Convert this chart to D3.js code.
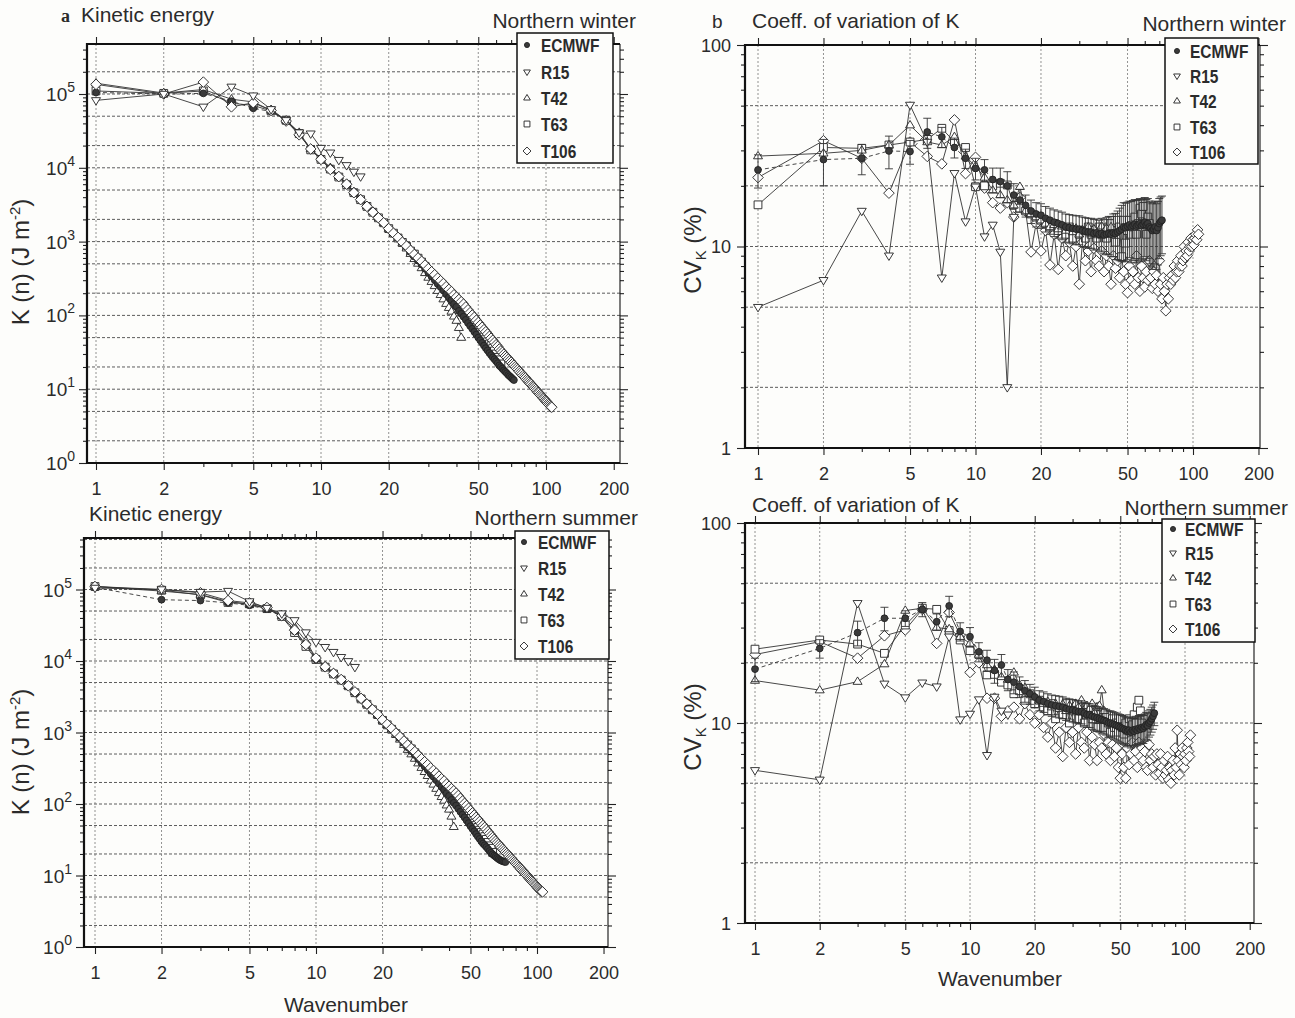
<!DOCTYPE html>
<html><head><meta charset="utf-8">
<script src="https://cdn.jsdelivr.net/npm/d3@7"></script>
<style>
html,body{margin:0;padding:0;background:#fdfdfb;}
svg{display:block;}
text{font-family:"Liberation Sans",Arial,Helvetica,sans-serif;fill:#2b2b2b;}
</style></head><body>
<svg id="chart" width="1295" height="1018"></svg>
<script>
// ---------------- DATA (value at wavenumber n = index + 1) ----------------
const seriesNames = ["ECMWF", "R15", "T42", "T63", "T106"];
const xTickLabels = [1, 2, 5, 10, 20, 50, 100, 200];

// a) Kinetic energy, Northern winter (J m^-2)
const keWinterECMWF = [1.05e5,1.0e5,1.02e5,8.0e4,6.4e4,5.8e4,4.3e4,2.9e4,1.8e4,1.3e4,9.8e3,7.6e3,6.0e3,4.7e3,3.7e3,
  3.0e3,2.5e3,2.1e3,1.8e3,1.5e3,1.3e3,1.12e3,
  965,842,724,627,552,489,428,376,336,301,267,242,217,194,175,161,143,131,
  115,105,96,87,79,72,66,60,55,50,46,42.5,39,36,33.5,31,29,27,25.5,24,22.5,21,20,19,18,17.2,16.4,15.6,15,14.4,13.8,13.3];
const keWinterR15 = [8.2e4,1.0e5,6.7e4,1.25e5,9.5e4,6.2e4,4.4e4,3.0e4,2.9e4,1.85e4,1.6e4,1.27e4,1.08e4,8.8e3,7.6e3];
const keWinterT42 = [1.4e5,1.03e5,1.15e5,8.5e4,7.8e4,6.0e4,4.4e4,3.0e4,1.8e4,1.35e4,1.0e4,7.7e3,6.1e3,4.7e3,3.8e3,
  3.05e3,2.55e3,2.15e3,1.8e3,1.5e3,1.3e3,1.13e3,
  947,812,685,584,505,439,377,326,286,251,216,190,166,144,127,113,97,85,68,50];
const keWinterT63 = [1.1e5,1.02e5,1.1e5,7.5e4,7.0e4,5.9e4,4.4e4,2.9e4,1.75e4,1.3e4,9.6e3,7.5e3,5.9e3,4.6e3,3.7e3,
  3.0e3,2.5e3,2.1e3,1.8e3,1.5e3,1.3e3,1.12e3,975,860,745,
  677,596,528,462,406,363,325,288,261,234,210,189,174,154,141,132,122,113,104,95,87,81,76,69,64,59,55,51,48,44,41,39,36,33,30,27,25,22];
const keWinterT106 = [1.35e5,1.0e5,1.45e5,6.7e4,7.6e4,6.0e4,4.3e4,2.8e4,1.8e4,1.3e4,9.5e3,7.6e3,6.0e3,4.6e3,3.7e3,
  3.0e3,2.5e3,2.1e3,1.8e3,1.5e3,1.3e3,1.14e3,980,870,760,670,600,540,480,430,390,355,320,295,270,245,225,210,190,177,164,153,142,
  130,119,109,101,94,86,80,74,69,64,60,56,52,49,46,43,40,38,35,33,
  31.5,29.8,28.2,26.9,25.5,24.3,23.2,22.1,21.1,20.1,19.2,18.4,17.5,16.8,16.1,15.3,14.7,14.2,13.5,13.0,
  12.5,12.0,11.6,11.0,10.7,10.3,9.9,9.5,9.1,8.9,8.5,8.2,7.9,7.6,7.4,7.1,6.9,6.7,6.4,6.2,6.0,5.8,5.7];

// Kinetic energy, Northern summer (J m^-2)
const keSummerECMWF = [1.07e5,7.2e4,7.0e4,6.5e4,6.0e4,5.3e4,4.2e4,2.6e4,1.7e4,1.05e4,8.2e3,6.6e3,5.4e3,4.4e3,3.6e3,
  2.95e3,2.45e3,2.05e3,1.75e3,1.45e3,1.27e3,1.1e3,
  950,830,715,620,548,485,425,374,334,300,266,240,215,193,174,160,142,130,
  114,104,95,86,78,71,65,59,54,49,45,41.5,38,35,32.5,30,28,26.5,25,23.5,22,20.8,19.8,19,18.3,17.6,17,16.5,16.1,15.8,15.6,15.4];
const keSummerR15 = [1.05e5,1.0e5,9.2e4,9.5e4,6.8e4,5.5e4,4.6e4,3.7e4,2.5e4,1.84e4,1.56e4,1.33e4,1.13e4,9.9e3,8.2e3];
const keSummerT42 = [1.1e5,9.5e4,8.5e4,6.8e4,6.2e4,5.4e4,4.3e4,3.0e4,1.9e4,1.1e4,8.5e3,6.8e3,5.5e3,4.5e3,3.7e3,
  3.0e3,2.5e3,2.1e3,1.78e3,1.48e3,1.28e3,1.11e3,
  935,800,675,575,498,432,372,322,282,248,214,188,164,143,126,112,96,84,67,48];
const keSummerT63 = [1.1e5,9.8e4,8.4e4,6.6e4,6.3e4,5.4e4,4.2e4,2.5e4,1.6e4,1.05e4,8.2e3,6.6e3,5.4e3,4.5e3,3.6e3,
  2.95e3,2.48e3,2.08e3,1.78e3,1.48e3,1.28e3,1.11e3,965,850,738,
  670,590,522,458,402,360,322,286,259,232,208,188,172,153,140,131,121,112,103,94,86,80,75,68,63,58,54,50,47,43,40,38,35,32,29,26,24,21];
const keSummerT106 = [1.1e5,1.0e5,9.0e4,7.0e4,6.5e4,5.6e4,4.3e4,2.7e4,1.7e4,1.1e4,8.3e3,6.7e3,5.5e3,4.5e3,3.7e3,
  3.0e3,2.5e3,2.1e3,1.8e3,1.5e3,1.3e3,1.14e3,980,870,760,670,600,540,480,430,390,355,320,295,270,245,225,210,190,177,164,153,142,
  131,120,110,102,95,87,81,75,70,65,61,57,53,50,47,44,41,38.5,36,34,
  32,30.2,28.6,27.2,25.8,24.6,23.4,22.3,21.3,20.3,19.4,18.5,17.7,17.0,16.2,15.5,14.9,14.3,13.7,13.1,
  12.6,12.1,11.7,11.2,10.8,10.4,10.0,9.6,9.2,8.9,8.6,8.3,8.0,7.7,7.4,7.2,6.9,6.7,6.5,6.3,6.1,6.0,5.9];

// b) Coefficient of variation of K (%), Northern winter
const cvWinterECMWF = [24,27,27.4,29.8,29.6,37,35,31,27.4,24.4, 24,21.5,21,20,18,17,16,15,14.5,14.3,
  13.8,13.5,13.2,13,12.8,12.5,12.4,12.3,12.2,12.2, 12.0,11.9,11.8,11.8,11.6,11.7,11.5,11.6,11.4,11.5,
  11.6,11.5,11.7,11.6,11.8,12.0,12.2,12.5,12.4,12.6, 12.8,12.5,12.7,12.9,12.6,12.8,13.0,12.7,12.9,13.2,
  12.8,13.0,12.5,12.3,12.0,12.2,12.5,12.0,12.4,13.0, 13.3,13.5];
const cvWinterECMWFErr = [4.5,7,4.7,5.5,4,6.3,4,3.5,3,3, 3,3,3.5,3.5,2.5,2.2,2,2,2,2,
  2,2,2,2,2,2,2,2,2,2, 2,2,2,2,2,2,2,2.2,2.2,2.4, 2.5,2.6,2.8,3,3.2,3.5,3.8,4,4,4,
  4,4.2,4.2,4.2,4.3,4.3,4.3,4.3,4.3,4.3, 4.3,4.3,4.3,4.3,4.3,4.3,4.3,4.3,4.3,4.3, 4.3,4.3];
const cvWinterR15 = [5.0,6.8,15.0,9.0,50.4,33,7.0,23.1,13.3,19.8,11.2,12.8,9.4,2.0,14];
const cvWinterT42 = [28.1,29,30,31.9,40,33,31.9,35,28,25, 22,19,18,17,16,19.8,15,14.5,14,13.5,
  13,12.5,12.8,12.2,12.6,12,12.4,11.8,12.3,11.5, 12.1,11.8,12.5,11.6,12.2,11.4,12,12.6,11.8,12.3, 11.7,12.5];
const cvWinterT63 = [16.1,31,30.7,31.9,33,34,38.6,33,31,19.8, 20,20,20.6,20.2,16,15.5,15,14.5,14,13.5,
  13,12.5,13,12,12.5,11.5,12.5,11,12,11.5, 12,11,12.5,11.5,12,11,12.5,11.5,12,11,
  12.5,13,12,10.5,13.5,12.5,8.9,13.5,10.4,12, 13.5,11.5,12.5,14,11.5,13,15.5,14.5,15.8,12.9, 11.5,14,13];
const cvWinterT106 = [22,33.5,27.4,18.4,33,28,25.7,42.5,23,27.7, 19.5,16.5,15.5,16.5,14,17.5,15,9.4,13,9.5,
  12,8.1,11.5,7.7,11,9,10.5,8,10,6.5, 10.5,8.5,9.5,7.5,9.8,8.5,8,9.5,7.5,9,
  8,6.5,9,7.8,8.5,7,8.8,7.5,6.5,5.9, 8,6.8,7.5,6.5,9,7,6,8,7,6.3,
  7.5,6.8,8.5,7,6.2,7.5,6.5,7.2,6,8.5, 6.5,5.5,7,6,4.8,6.5,5.5,7,6.5,7.2,
  6.8,8,7,7.5,8.5,7.5,8,9,8,8.5, 10,8.8,9.5,9,10.5,9.5,10,11,10,10.8, 10.2,11,11.5,10.8,12.1,11.5];

// Coefficient of variation of K (%), Northern summer
const cvSummerECMWF = [18.6,23.6,28.3,33.4,33.4,37,32.1,38.5,28.7,27, 22.7,20.6,18.3,19.5,16.5,16,15.2,14.5,14,13.5,
  13,12.8,12.5,12.3,12.2,12.1,12,11.8,11.7,11.6, 11.5,11.4,11.4,11.2,11,11,10.8,10.7,10.6,10.5,
  10.4,10.3,10.2,10,10,9.9,9.8,9.7,9.6,9.5, 9.4,9.3,9.2,9.1,9.2,9.0,9.2,9.1,9.3,9.2,
  9.4,9.3,9.5,9.4,9.6,9.8,9.7,10,10.2,10.5, 10.8,11.2];
const cvSummerECMWFErr = [2.5,2.5,4,4.5,3,3,3,4.5,3,3, 2.5,2.5,2.5,2.5,2,2,1.8,1.8,1.6,1.6,
  1.5,1.5,1.5,1.5,1.5,1.5,1.5,1.5,1.5,1.5, 1.5,1.5,1.5,1.5,1.5,1.5,1.5,1.5,1.5,1.5,
  1.5,1.5,1.5,1.5,1.5,1.5,1.5,1.5,1.5,1.5, 1.5,1.5,1.5,1.5,1.5,1.5,1.5,1.5,1.5,1.5,
  1.5,1.5,1.5,1.5,1.5,1.5,1.5,1.5,1.5,1.5, 1.5,1.5];
const cvSummerR15 = [5.8,5.2,39.7,15.7,13.4,15.9,15.2,27,10.4,11.1,13.1,6.9,13.5,11.5,11];
const cvSummerT42 = [16.3,14.6,16.1,19.7,36.5,37.5,30,29.5,27,25, 22,19.5,18.5,17,16.5,17.9,15.5,15,14,13.5,
  13,12.5,12.8,12,12.5,11.8,12.4,11.5,12.2,11.8, 12.5,12,13,11.5,12.2,11.8,12.5,11.2,12,12.2, 14.6,11.5];
const cvSummerT63 = [23.4,26,24.8,22.3,30.9,37.5,37,29,26,23, 22,17.4,17.5,16,15.5,14,14.5,13,14,12.5,
  13,12,11.5,12.5,10.5,12,11,12.5,10,11.5, 12,10.5,11.5,10,12,11,10.5,12,9.5,11,
  10.5,9.5,11,10,9,10.5,9.5,10,9,10.5, 9.5,8.8,10,9.2,10.5,9,9.8,11,10,12, 13,11.5,10];
const cvSummerT106 = [22,25.5,21.1,27.3,29.2,37,25,35.7,27.5,17.9, 20,13.3,13.3,10.8,11.5,12,10.5,12.5,11,10,
  11,9.5,8.5,10,7.5,9,6.8,9.5,8,9, 7,9.5,8,7.5,9,6.5,8.5,7.8,6.5,8,
  7.5,8.8,7,8,6.5,7.8,6.8,7.5,6,5.3, 7,6,5.3,7.5,6.2,7,8,6.5,7.2,6,
  8,6.8,7.5,6.5,7.2,6,5.8,7.8,6.5,7, 6,6.8,5.5,7,6.2,5.6,7,6,5.3,6.5,
  5.5,5.8,6.8,5.2,6,5,5.8,6.5,5.5,7.5, 6,9.2,6.5,5.5,7,6.2,7.5,6.8,6,7, 6.5,7.5,8,7.2,6.8,8.7];

// ---------------- STYLE / LAYOUT ----------------
const seriesStyle = {
  ECMWF: {shape: "circle", r: 3.4, fill: "#3a3a3a", dash: "4,3"},
  R15:   {shape: "down", r: 4.5, fill: "#fff", dash: null},
  T42:   {shape: "up", r: 4.5, fill: "#fff", dash: null},
  T63:   {shape: "square", r: 3.9, fill: "#fff", dash: null},
  T106:  {shape: "diamond", r: 5.3, fill: "#fff", dash: null}
};
const drawOrderKE = ["T63", "T42", "ECMWF", "T106", "R15"];
const drawOrderCV = ["T106", "T63", "T42", "R15", "ECMWF"];

function markerPath(shape, r) {
  switch (shape) {
    case "circle": return `M${r},0A${r},${r} 0 1,1 ${-r},0A${r},${r} 0 1,1 ${r},0Z`;
    case "down": return `M${-r},${-r*0.6}L${r},${-r*0.6}L0,${r*1.05}Z`;
    case "up": return `M${-r},${r*0.6}L${r},${r*0.6}L0,${-r*1.05}Z`;
    case "square": return `M${-r},${-r}H${r}V${r}H${-r}Z`;
    case "diamond": return `M0,${-r}L${r},0L0,${r}L${-r},0Z`;
  }
}

const svg = d3.select("#chart");
svg.append("rect").attr("width", 1295).attr("height", 1018).attr("fill", "#fdfdfb");

const panels = [
  { kind: "ke", frame: {l: 87, r: 620, t: 44, b: 463}, xr: [96, 546], yDom: [1, 1e5], yr: [463, 94],
    data: {ECMWF: keWinterECMWF, R15: keWinterR15, T42: keWinterT42, T63: keWinterT63, T106: keWinterT106}, err: null,
    legend: {l: 517, t: 33, r: 613, b: 163, rows: [45, 72, 98, 124, 151], mx: 527, tx: 541} },
  { kind: "cv", frame: {l: 745, r: 1260, t: 45, b: 448}, xr: [758, 1193], yDom: [1, 100], yr: [448, 45],
    data: {ECMWF: cvWinterECMWF, R15: cvWinterR15, T42: cvWinterT42, T63: cvWinterT63, T106: cvWinterT106}, err: cvWinterECMWFErr,
    legend: {l: 1165, t: 38, r: 1258, b: 164, rows: [51, 76, 101, 127, 152], mx: 1177, tx: 1190} },
  { kind: "ke", frame: {l: 84, r: 608, t: 538, b: 947}, xr: [95, 537], yDom: [1, 1e5], yr: [947, 589.5],
    data: {ECMWF: keSummerECMWF, R15: keSummerR15, T42: keSummerT42, T63: keSummerT63, T106: keSummerT106}, err: null,
    legend: {l: 515, t: 531, r: 609, b: 659, rows: [542, 568, 594, 620, 646], mx: 524, tx: 538} },
  { kind: "cv", frame: {l: 745, r: 1254, t: 523, b: 923}, xr: [755, 1185], yDom: [1, 100], yr: [923, 523],
    data: {ECMWF: cvSummerECMWF, R15: cvSummerR15, T42: cvSummerT42, T63: cvSummerT63, T106: cvSummerT106}, err: cvSummerECMWFErr,
    legend: {l: 1162, t: 519, r: 1255, b: 642, rows: [529, 553, 578, 604, 629], mx: 1173, tx: 1185} }
];

const xMinor = [3, 4, 6, 7, 8, 9, 30, 40, 60, 70, 80, 90];
const xGrid = [1, 2, 5, 10, 20, 50, 100];

function drawPanel(p) {
  const g = svg.append("g");
  const {l, r, t, b} = p.frame;
  const x = d3.scaleLog().domain([1, 100]).range(p.xr);
  const y = d3.scaleLog().domain(p.yDom).range(p.yr);
  const yTopVal = y.invert(t);
  const decades = d3.range(0, Math.floor(Math.log10(yTopVal)) + 1).map(k => Math.pow(10, k));
  const yMajor = decades.filter(v => v <= yTopVal * 1.001);
  const yMinor = [];
  decades.forEach(dv => { for (let m = 2; m <= 9; m++) { if (m * dv < yTopVal * 0.999) yMinor.push(m * dv); } });
  const yGrid = [];
  decades.forEach(dv => [1, 2, 5].forEach(m => { const v = m * dv; if (v > 1.001 && v < yTopVal * 0.97) yGrid.push(v); }));

  // grid
  g.append("g").selectAll("line").data(yGrid).join("line")
    .attr("x1", l).attr("x2", r).attr("y1", d => y(d)).attr("y2", d => y(d))
    .attr("stroke", "#4a4a4a").attr("stroke-width", 0.9).attr("stroke-dasharray", "3,2");
  g.append("g").selectAll("line").data(xGrid).join("line")
    .attr("x1", d => x(d)).attr("x2", d => x(d)).attr("y1", t).attr("y2", b)
    .attr("stroke", "#777").attr("stroke-width", 0.8).attr("stroke-dasharray", "2,2");

  // axes ticks (outward on all four sides)
  const styleAxis = sel => { sel.select(".domain").remove(); sel.selectAll("line").attr("stroke", "#222").attr("stroke-width", 1.1); };
  g.append("g").attr("transform", `translate(0,${b})`)
    .call(d3.axisBottom(x).tickValues(xTickLabels).tickSize(7).tickPadding(12).tickFormat(d3.format("d")))
    .call(styleAxis)
    .call(s => s.selectAll("text").attr("fill", "#333").style("font-size", "18px").style("font-family", '"Liberation Sans",Arial,sans-serif'));
  g.append("g").attr("transform", `translate(0,${b})`)
    .call(d3.axisBottom(x).tickValues(xMinor).tickSize(4).tickFormat("")).call(styleAxis);
  g.append("g").attr("transform", `translate(0,${t})`)
    .call(d3.axisTop(x).tickValues(xTickLabels).tickSize(7).tickFormat("")).call(styleAxis);
  g.append("g").attr("transform", `translate(0,${t})`)
    .call(d3.axisTop(x).tickValues(xMinor).tickSize(4).tickFormat("")).call(styleAxis);
  g.append("g").attr("transform", `translate(${l},0)`)
    .call(d3.axisLeft(y).tickValues(yMajor).tickSize(8).tickFormat("")).call(styleAxis);
  g.append("g").attr("transform", `translate(${l},0)`)
    .call(d3.axisLeft(y).tickValues(yMinor).tickSize(4).tickFormat("")).call(styleAxis);
  g.append("g").attr("transform", `translate(${r},0)`)
    .call(d3.axisRight(y).tickValues(yMajor).tickSize(8).tickFormat("")).call(styleAxis);
  g.append("g").attr("transform", `translate(${r},0)`)
    .call(d3.axisRight(y).tickValues(yMinor).tickSize(4).tickFormat("")).call(styleAxis);

  // y tick labels
  const yl = g.append("g").selectAll("text").data(yMajor).join("text")
    .attr("text-anchor", "end").attr("fill", "#333");
  if (p.kind === "ke") {
    yl.attr("x", l - 12).attr("y", d => y(d) + 7).style("font-size", "19px")
      .each(function (d) {
        const s = d3.select(this);
        s.append("tspan").text("10");
        s.append("tspan").attr("dy", -9).style("font-size", "14px").text(String(Math.round(Math.log10(d))));
      });
  } else {
    yl.attr("x", l - 14).attr("y", d => y(d) + 6.5).style("font-size", "18px").text(d => d3.format("d")(d));
  }

  // frame
  const fr = g.append("g").attr("stroke", "#111").attr("fill", "none");
  fr.append("line").attr("x1", l).attr("x2", l).attr("y1", t - 1).attr("y2", b + 1).attr("stroke-width", 2.2);
  fr.append("line").attr("x1", l).attr("x2", r).attr("y1", b).attr("y2", b).attr("stroke-width", 2.2);
  fr.append("line").attr("x1", l).attr("x2", r).attr("y1", t).attr("y2", t).attr("stroke-width", 2.2);
  fr.append("line").attr("x1", r).attr("x2", r).attr("y1", t).attr("y2", b).attr("stroke-width", 1.1);

  // series
  const order = p.kind === "ke" ? drawOrderKE : drawOrderCV;
  order.forEach(name => {
    const st = seriesStyle[name];
    const pts = p.data[name].map((v, i) => ({n: i + 1, v}));
    const sg = g.append("g");
    sg.append("path").attr("d", d3.line().x(d => x(d.n)).y(d => y(d.v))(pts))
      .attr("fill", "none").attr("stroke", "#333").attr("stroke-width", 0.9)
      .attr("stroke-dasharray", st.dash);
    if (name === "ECMWF" && p.err) {
      const eb = sg.append("g").attr("stroke", "#333").attr("stroke-width", 0.9);
      pts.forEach((d, i) => {
        const e = p.err[i];
        const y0 = y(d.v - e), y1 = y(d.v + e), cx = x(d.n);
        eb.append("line").attr("x1", cx).attr("x2", cx).attr("y1", y0).attr("y2", y1);
        eb.append("line").attr("x1", cx - 4).attr("x2", cx + 4).attr("y1", y0).attr("y2", y0);
        eb.append("line").attr("x1", cx - 4).attr("x2", cx + 4).attr("y1", y1).attr("y2", y1);
      });
    }
    sg.append("g").selectAll("path").data(pts).join("path")
      .attr("transform", d => `translate(${x(d.n)},${y(d.v)})`)
      .attr("d", markerPath(st.shape, st.r))
      .attr("fill", st.fill).attr("stroke", "#222").attr("stroke-width", 0.9);
  });

  // legend
  const L = p.legend;
  const lg = g.append("g");
  lg.append("rect").attr("x", L.l).attr("y", L.t).attr("width", L.r - L.l).attr("height", L.b - L.t)
    .attr("fill", "#fdfdfb").attr("stroke", "#111").attr("stroke-width", 1.5);
  seriesNames.forEach((name, i) => {
    const st = seriesStyle[name];
    lg.append("path").attr("transform", `translate(${L.mx},${L.rows[i]})`)
      .attr("d", markerPath(st.shape, st.r * 0.75)).attr("fill", st.fill).attr("stroke", "#222").attr("stroke-width", 0.9);
    lg.append("text").attr("transform", `translate(${L.tx},${L.rows[i] + 6.5}) scale(0.86,1)`)
      .style("font-size", "18px").style("font-weight", "bold").attr("fill", "#1a1a1a").text(name);
  });
}

panels.forEach(drawPanel);

// ---------------- TITLES / LABELS ----------------
function addText(x, y, txt, size, anchor, extra) {
  const t = svg.append("text").attr("x", x).attr("y", y).attr("text-anchor", anchor || "start")
    .style("font-size", size + "px").text(txt);
  if (extra) extra(t);
  return t;
}
addText(61, 22, "a", 18, "start", t => t.style("font-family", '"Liberation Serif","Times New Roman",serif').style("font-weight", "bold"));
addText(81, 22, "Kinetic energy", 21);
addText(636, 28, "Northern winter", 21, "end");
addText(712, 28, "b", 19, "start");
addText(752, 28, "Coeff. of variation of K", 21);
addText(1286, 31, "Northern winter", 21, "end");
addText(89, 521, "Kinetic energy", 21);
addText(638, 525, "Northern summer", 21, "end");
addText(752, 512, "Coeff. of variation of K", 21);
addText(1288, 515, "Northern summer", 21, "end");
addText(346, 1012, "Wavenumber", 21, "middle");
addText(1000, 986, "Wavenumber", 21, "middle");

function kLabel(cx, cy) {
  const t = svg.append("text").attr("transform", `translate(${cx},${cy}) rotate(-90)`)
    .attr("text-anchor", "middle").style("font-size", "24px");
  t.append("tspan").text("K (n)  (J m");
  t.append("tspan").attr("dy", -9).style("font-size", "15px").text("-2");
  t.append("tspan").attr("dy", 9).text(")");
}
kLabel(29, 262);
kLabel(29, 752);
function cvLabel(cx, cy) {
  const t = svg.append("text").attr("transform", `translate(${cx},${cy}) rotate(-90)`)
    .attr("text-anchor", "middle").style("font-size", "24px");
  t.append("tspan").text("CV");
  t.append("tspan").attr("dy", 5).style("font-size", "15px").text("K");
  t.append("tspan").attr("dy", -5).text(" (%)");
}
cvLabel(701, 250);
cvLabel(701, 727);
</script>
</body></html>
